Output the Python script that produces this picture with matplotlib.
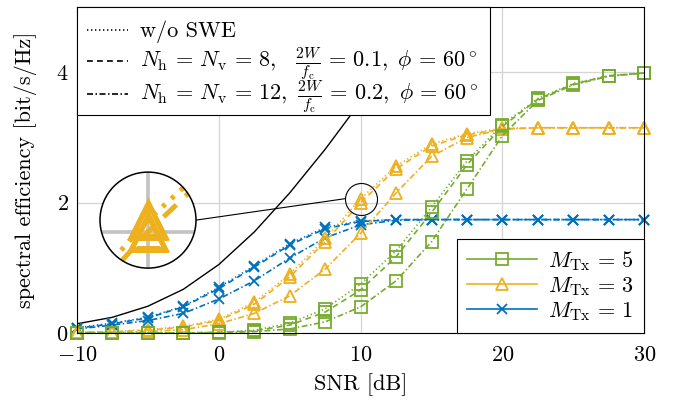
import matplotlib
matplotlib.use('Agg')
import matplotlib.pyplot as plt
from matplotlib.lines import Line2D
from matplotlib.patches import Circle, ConnectionPatch, Rectangle
from matplotlib.transforms import offset_copy

plt.rcParams['font.family'] = 'cmr10'
plt.rcParams['mathtext.fontset'] = 'cm'
plt.rcParams['axes.formatter.use_mathtext'] = True
plt.rcParams['font.size'] = 16

# SNR grid [dB]
snr = [-10, -7.5, -5, -2.5, 0, 2.5, 5, 7.5, 10, 12.5, 15, 17.5, 20, 22.5, 25, 27.5, 30]

# black reference curve
bound = [0.14, 0.24, 0.41, 0.67, 1.05, 1.55, 2.15, 2.82, 3.55, 4.33, 5.13, 5.95,
         6.78, 7.60, 8.43, 9.26, 10.09]

# M_Tx = 1
m1_noswe = [0.08, 0.15, 0.24, 0.41, 0.70, 1.03, 1.37, 1.62, 1.72, 1.74, 1.74, 1.74,
            1.74, 1.74, 1.74, 1.74, 1.74]
m1_n8 = [0.07, 0.14, 0.23, 0.40, 0.68, 1.01, 1.35, 1.60, 1.71, 1.74, 1.74, 1.74,
         1.74, 1.74, 1.74, 1.74, 1.74]
m1_n12 = [0.06, 0.12, 0.19, 0.30, 0.52, 0.80, 1.15, 1.46, 1.66, 1.73, 1.74, 1.74,
          1.74, 1.74, 1.74, 1.74, 1.74]

# M_Tx = 3
m3_noswe = [0.01, 0.02, 0.05, 0.10, 0.21, 0.47, 0.90, 1.45, 2.06, 2.56, 2.90, 3.06,
            3.14, 3.15, 3.15, 3.15, 3.15]
m3_n8 = [0.01, 0.02, 0.04, 0.09, 0.19, 0.44, 0.86, 1.40, 2.00, 2.52, 2.87, 3.04,
         3.13, 3.15, 3.15, 3.15, 3.15]
m3_n12 = [0.00, 0.01, 0.02, 0.05, 0.14, 0.30, 0.57, 0.98, 1.53, 2.15, 2.71, 3.00,
          3.13, 3.15, 3.15, 3.15, 3.15]

# M_Tx = 5
m5_noswe = [0.00, 0.00, 0.00, 0.00, 0.01, 0.04, 0.15, 0.37, 0.75, 1.26, 1.93, 2.64,
            3.20, 3.60, 3.83, 3.95, 3.99]
m5_n8 = [0.00, 0.00, 0.00, 0.00, 0.01, 0.03, 0.12, 0.32, 0.66, 1.17, 1.85, 2.58,
         3.17, 3.59, 3.82, 3.95, 3.99]
m5_n12 = [0.00, 0.00, 0.00, 0.00, 0.00, 0.02, 0.06, 0.17, 0.40, 0.80, 1.40, 2.21,
          3.03, 3.57, 3.81, 3.94, 3.99]

xticks = [-10, 0, 10, 20, 30]
yticks = [0, 2, 4]

blue = '#0072BD'
yellow = '#EDB120'
green = '#77AC30'

styles = [(0, (0.8, 1.6)), (0, (3.5, 2.5)), (0, (3.6, 1.5, 0.9, 1.5))]
series = [
    ([m1_noswe, m1_n8, m1_n12], blue, 'x', 7),
    ([m3_noswe, m3_n8, m3_n12], yellow, '^', 8),
    ([m5_noswe, m5_n8, m5_n12], green, 's', 8.5),
]

labels_style = [
    'w/o SWE',
    r'$N_\mathrm{h}\,=\,N_\mathrm{v}\,=\,8,\ \ \,\frac{2W}{f_\mathrm{c}}\,=\,0.1,\ \phi\,=\,60^\circ$',
    r'$N_\mathrm{h}\,=\,N_\mathrm{v}\,=\,12,\ \frac{2W}{f_\mathrm{c}}\,=\,0.2,\ \phi\,=\,60^\circ$',
]
labels_m = [r'$M_\mathrm{Tx}\,=\,5$', r'$M_\mathrm{Tx}\,=\,3$', r'$M_\mathrm{Tx}\,=\,1$']


def draw_curves(a, k=1.0, clip=False):
    a.plot(snr, bound, color='black', lw=1.0 * k)
    for curves, col, mk, ms in series:
        for y, ls in zip(curves, styles):
            a.plot(snr, y, color=col, ls=ls, lw=1.2 * k, marker=mk, ms=ms * k,
                   mfc='none', mew=1.3 * k, clip_on=clip)


fig = plt.figure(figsize=(6.78, 4.05), dpi=100)
ax = fig.add_axes([0.1136, 0.178, 0.8366, 0.804])
draw_curves(ax)
ax.set_xlim(-10, 30)
ax.set_ylim(0, 5)
ax.set_xticks(xticks)
ax.set_yticks(yticks)
ax.grid(True, color='#d4d4d4', lw=0.9)
ax.set_axisbelow(True)
ax.tick_params(length=0, labelsize=16)
ax.tick_params(axis='x', pad=9)
ax.tick_params(axis='y', pad=6)
for s in ax.spines.values():
    s.set_linewidth(0.8)
ax.set_xlabel('SNR [dB]', labelpad=6)
ax.set_ylabel('spectral efficiency [bit/s/Hz]', labelpad=14)

# line-style key, top left (rows evenly spaced, so built by hand)
key_w, key_h = 0.728, 0.331
key_lines = [0.929, 0.834, 0.735]
key_base = [0.908, 0.815, 0.713]
ax.add_patch(Rectangle((0, 1 - key_h), key_w, key_h, transform=ax.transAxes,
                       fc='white', ec='black', lw=0.8, zorder=8, clip_on=False))
for yl, yb, ls, lab in zip(key_lines, key_base, styles, labels_style):
    ax.plot([0.0176, 0.090], [yl, yl], transform=ax.transAxes, color='black',
            ls=ls, lw=1.2, zorder=9, clip_on=False)
    ax.text(0.111, yb, lab, transform=ax.transAxes, va='baseline', ha='left',
            fontsize=16, zorder=9)

# colour key, bottom right
h_m = [Line2D([], [], color=col, lw=1.2, marker=mk, ms=ms, mfc='none', mew=1.3)
       for _, col, mk, ms in series[::-1]]
leg2 = ax.legend(h_m, labels_m, loc='lower right', borderaxespad=0,
                 fancybox=False, edgecolor='black', framealpha=1, fontsize=16,
                 handlelength=3.15, handletextpad=0.5, labelspacing=0.1,
                 borderpad=0.45)
leg2.get_frame().set_linewidth(0.8)
leg2.set_zorder(8)

# magnified view around the M_Tx = 3 curves at 10 dB
cx, cy = snr[8], m3_noswe[8]
r_px = 16
mag = 3
px_x = ax.bbox.width / 40
px_y = ax.bbox.height / 5
ax.plot(cx, cy, marker='o', ms=2 * r_px * 72 / fig.dpi, mfc='none', mec='black',
        mew=0.8, zorder=6)

ax_in = fig.add_axes([0.1475, 0.338, 96 / 678, 96 / 405])
ax_in.patch.set_visible(False)
for s in ax_in.spines.values():
    s.set_visible(False)
ax_in.set_xticks([])
ax_in.set_yticks([])
disk = Circle((0.5, 0.5), 0.5, transform=ax_in.transAxes, fc='white', ec='none', zorder=0)
ax_in.add_patch(disk)
for g in xticks:
    ax_in.axvline(g, color='#c4c4c4', lw=0.9 * mag, zorder=1)
for g in yticks:
    ax_in.axhline(g, color='#c4c4c4', lw=0.9 * mag, zorder=1)
draw_curves(ax_in, mag, clip=True)
for ln in ax_in.lines:
    ln.set_clip_path(disk)
ax_in.set_xlim(cx - r_px / px_x, cx + r_px / px_x)
ax_in.set_ylim(cy - r_px / px_y, cy + r_px / px_y)
ax_in.add_patch(Circle((0.5, 0.5), 0.5, transform=ax_in.transAxes, fc='none',
                       ec='black', lw=1.1, zorder=10, clip_on=False))

con = ConnectionPatch(xyA=(1, 0.5), coordsA=ax_in.transAxes, xyB=(cx, cy),
                      coordsB=offset_copy(ax.transData, fig=fig, x=-r_px, y=0, units='dots'),
                      color='black', lw=0.8)
fig.add_artist(con)

fig.savefig('out.png', dpi=100)
